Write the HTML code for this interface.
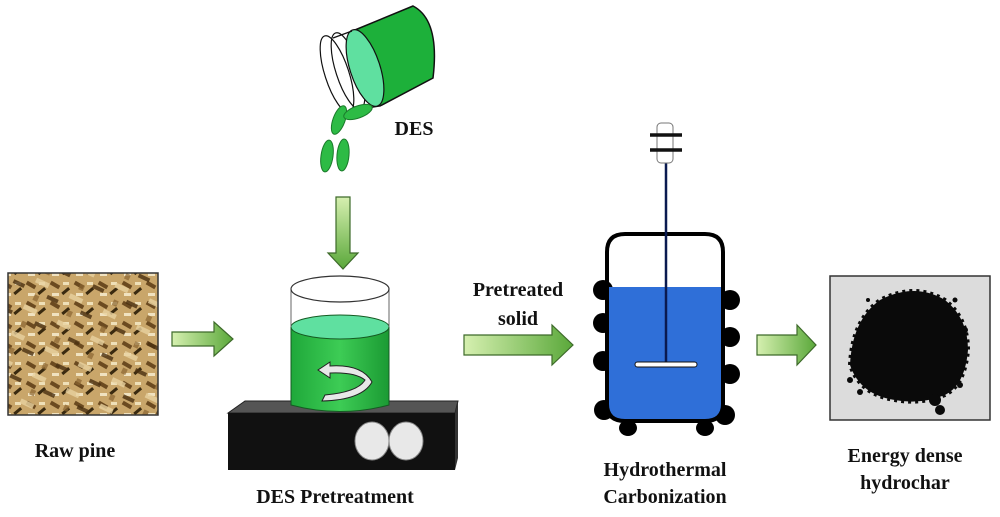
<!DOCTYPE html>
<html><head><meta charset="utf-8"><style>
html,body{margin:0;padding:0;background:#fff;}
svg{display:block;}
text{font-family:"Liberation Serif",serif;font-weight:bold;fill:#111;}
</style></head><body>
<svg width="1000" height="517" viewBox="0 0 1000 517" xmlns="http://www.w3.org/2000/svg">
<defs>
<linearGradient id="ag" x1="0" x2="1" y1="0" y2="0">
<stop offset="0" stop-color="#d6f0b0"/><stop offset="1" stop-color="#5aa83a"/></linearGradient>
<linearGradient id="agv" x1="0" x2="0" y1="0" y2="1">
<stop offset="0" stop-color="#d6f0b0"/><stop offset="1" stop-color="#5aa83a"/></linearGradient>
<linearGradient id="gr" x1="0" x2="1"><stop offset="0" stop-color="#1fa83a"/><stop offset="0.5" stop-color="#3dcc55"/><stop offset="1" stop-color="#1b9a33"/></linearGradient>
<pattern id="chips" width="24" height="20" patternUnits="userSpaceOnUse">
<rect width="24" height="20" fill="#c9a66a"/>
<rect x="2" y="3" width="10" height="4" fill="#6b4a20" transform="rotate(30 7 5)"/>
<rect x="13" y="10" width="9" height="3" fill="#3a2a10" transform="rotate(-40 17 11)"/>
<rect x="4" y="13" width="7" height="3" fill="#f0e2c0"/>
<rect x="15" y="2" width="6" height="3" fill="#efe0b8"/>
</pattern>
<pattern id="chips2" width="37" height="29" patternUnits="userSpaceOnUse" patternTransform="rotate(25)">
<rect x="3" y="4" width="14" height="5" fill="#e8d2a0" opacity="0.8"/>
<rect x="20" y="15" width="12" height="4" fill="#4a3010" opacity="0.8"/>
<rect x="8" y="20" width="5" height="6" fill="#8a6530" opacity="0.7"/>
</pattern>
</defs>

<!-- Raw pine -->
<rect x="8" y="273" width="150" height="142" fill="url(#chips)"/>
<rect x="8" y="273" width="150" height="142" fill="url(#chips2)" stroke="#333" stroke-width="1.5"/>
<text x="75" y="457" font-size="20" text-anchor="middle">Raw pine</text>

<!-- arrow 1 -->
<path d="M172 332 H214 V322 L233 339 L214 356 V346 H172 Z" fill="url(#ag)" stroke="#3d6a2a" stroke-width="1.2"/>

<!-- bottle -->
<path d="M350 32 L413 6 Q440 20 433 78 L380 106 Z" fill="#1db03a" stroke="#111" stroke-width="1.5"/>
<path d="M335 35 L352 30 L380 107 L340 115 Z" fill="#fff" stroke="none"/>
<ellipse cx="337" cy="74" rx="12" ry="40" fill="#fff" stroke="#111" stroke-width="1.2" transform="rotate(-18 337 74)"/>
<ellipse cx="348" cy="71" rx="12" ry="40" fill="none" stroke="#111" stroke-width="1.2" transform="rotate(-18 348 71)"/>
<ellipse cx="365" cy="68" rx="15" ry="40" fill="#5fe0a0" stroke="#111" stroke-width="1.2" transform="rotate(-18 365 68)"/>
<line x1="333" y1="38" x2="352" y2="31" stroke="#111" stroke-width="1.2"/>
<line x1="342" y1="112" x2="380" y2="106" stroke="#111" stroke-width="1.2"/>
<ellipse cx="339" cy="120" rx="6" ry="15" fill="#2dbb45" stroke="#1a7a2a" transform="rotate(20 339 120)"/>
<ellipse cx="358" cy="112" rx="15" ry="6" fill="#2dbb45" stroke="#1a7a2a" transform="rotate(-20 358 112)"/>
<ellipse cx="327" cy="156" rx="6" ry="16" fill="#2dbb45" stroke="#1a7a2a" transform="rotate(8 327 156)"/>
<ellipse cx="343" cy="155" rx="6" ry="16" fill="#2dbb45" stroke="#1a7a2a" transform="rotate(5 343 155)"/>
<text x="414" y="135" font-size="20" text-anchor="middle">DES</text>

<!-- down arrow -->
<path d="M336 197 H350 V253 H358 L343 269 L328 253 H336 Z" fill="url(#agv)" stroke="#3d6a2a" stroke-width="1.2"/>

<!-- hot plate -->
<path d="M228 413 L245 401 H458 L455 413 Z" fill="#555" stroke="#222"/>
<path d="M455 413 L458 401 V458 L455 470 Z" fill="#333"/>
<rect x="228" y="413" width="227" height="57" fill="#111"/>
<ellipse cx="372" cy="441" rx="17" ry="19" fill="#e8e8e8" stroke="#888"/>
<ellipse cx="406" cy="441" rx="17" ry="19" fill="#e8e8e8" stroke="#888"/>
<text x="335" y="503" font-size="20" text-anchor="middle">DES Pretreatment</text>

<!-- beaker -->
<path d="M291 327 V405 Q340 418 389 405 V327 Z" fill="url(#gr)" stroke="#155a22"/>
<ellipse cx="340" cy="327" rx="49" ry="12" fill="#5fe0a0" stroke="#155a22"/>
<line x1="291" y1="289" x2="291" y2="327" stroke="#666"/>
<line x1="389" y1="289" x2="389" y2="327" stroke="#666"/>
<ellipse cx="340" cy="289" rx="49" ry="13" fill="none" stroke="#333" stroke-width="1.2"/>
<path d="M330 362 L318 370 L330 378 L330 373 Q355 372 365 380 Q358 392 325 395 L322 401 Q362 400 372 382 Q362 364 330 366 Z" fill="#e8e8e8" stroke="#222" stroke-width="1"/>

<!-- arrow 2 -->
<path d="M464 335 H552 V325 L573 345 L552 365 V355 H464 Z" fill="url(#ag)" stroke="#3d6a2a" stroke-width="1.2"/>
<text x="518" y="296" font-size="20" text-anchor="middle">Pretreated</text>
<text x="518" y="325" font-size="20" text-anchor="middle">solid</text>

<!-- reactor -->
<g fill="#000">
<circle cx="603" cy="290" r="10"/><circle cx="603" cy="323" r="10"/><circle cx="603" cy="361" r="10"/><circle cx="604" cy="410" r="10"/>
<circle cx="730" cy="300" r="10"/><circle cx="730" cy="337" r="10"/><circle cx="730" cy="374" r="10"/><circle cx="725" cy="415" r="10"/>
<ellipse cx="628" cy="428" rx="9" ry="8"/><ellipse cx="705" cy="428" rx="9" ry="8"/>
</g>
<path d="M607 287 H723 V402 Q723 420 705 420 H625 Q607 420 607 402 Z" fill="#2f6fd8"/>
<path d="M607 404 V252 Q607 234 625 234 H705 Q723 234 723 252 V404 Q723 421 705 421 H625 Q607 421 607 404 Z" fill="none" stroke="#000" stroke-width="4"/>
<line x1="666" y1="163" x2="666" y2="364" stroke="#0a1a50" stroke-width="2.5"/>
<rect x="657" y="123" width="16" height="40" rx="4" fill="#fff" stroke="#777"/>
<line x1="650" y1="135" x2="682" y2="135" stroke="#111" stroke-width="3.5"/>
<line x1="650" y1="150" x2="682" y2="150" stroke="#111" stroke-width="3.5"/>
<rect x="635" y="362" width="62" height="5" rx="2.5" fill="#fff" stroke="#111"/>
<text x="665" y="476" font-size="20" text-anchor="middle">Hydrothermal</text>
<text x="665" y="503" font-size="20" text-anchor="middle">Carbonization</text>

<!-- arrow 3 -->
<path d="M757 335 H797 V325 L816 345 L797 365 V355 H757 Z" fill="url(#ag)" stroke="#3d6a2a" stroke-width="1.2"/>

<!-- hydrochar -->
<rect x="830" y="276" width="160" height="144" fill="#dcdcdc" stroke="#333" stroke-width="1.5"/>
<path d="M850 365 Q852 320 880 300 Q915 282 945 300 Q968 318 968 350 Q965 385 945 395 Q920 405 895 400 Q860 395 850 365 Z" fill="#0a0a0a" stroke="#0a0a0a" stroke-width="4" stroke-dasharray="3 4"/>
<g fill="#0a0a0a"><circle cx="940" cy="410" r="5"/><circle cx="935" cy="400" r="6"/><circle cx="960" cy="385" r="3"/><circle cx="850" cy="380" r="3"/><circle cx="965" cy="330" r="3"/><circle cx="868" cy="300" r="2"/><circle cx="860" cy="392" r="3"/><circle cx="955" cy="300" r="2.5"/></g>
<text x="905" y="462" font-size="20" text-anchor="middle">Energy dense</text>
<text x="905" y="489" font-size="20" text-anchor="middle">hydrochar</text>
</svg>
</body></html>
